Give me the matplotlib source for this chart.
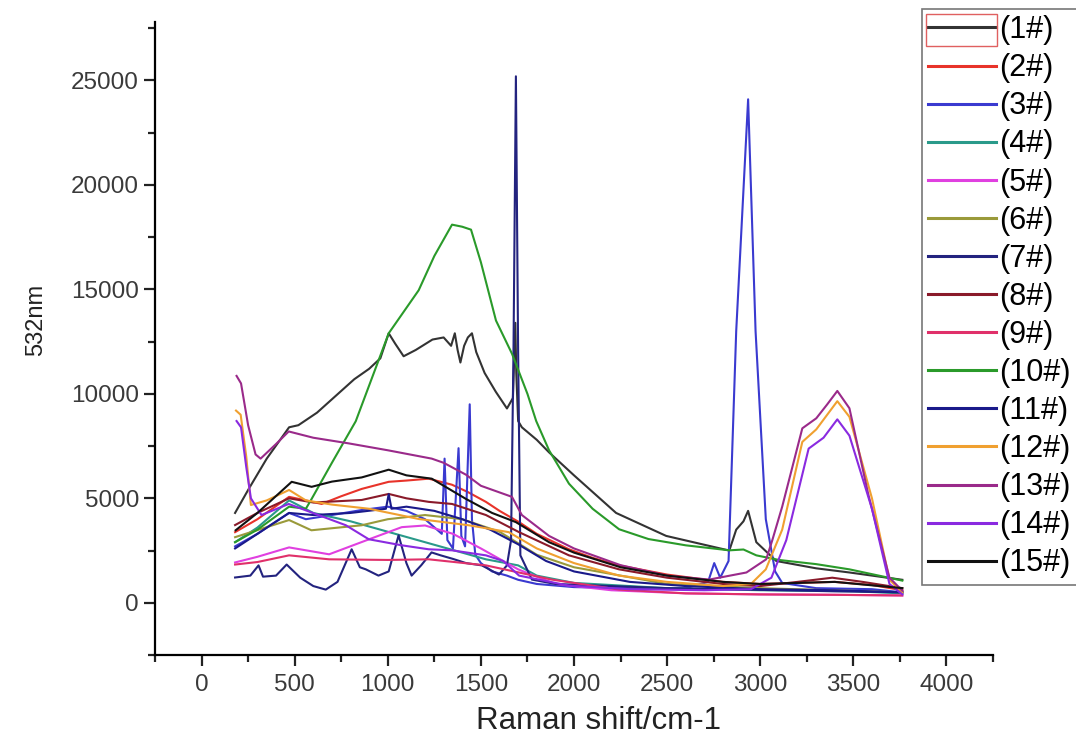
import matplotlib
matplotlib.use("Agg")
import matplotlib.pyplot as plt
from matplotlib.patches import Rectangle
from matplotlib.ticker import MultipleLocator

plt.rcParams["font.family"] = ["Liberation Sans", "DejaVu Sans"]

# Raman spectra (x: Raman shift / cm-1, y: intensity)
x1 = [180, 250, 350, 470, 520, 620, 720, 820, 900, 960, 1005, 1040, 1085, 1150, 1240, 1300, 1340, 1360, 1375,
      1390, 1410, 1430, 1452, 1475, 1520, 1580, 1640, 1672, 1685, 1690, 1700, 1720, 1800, 1866, 2000, 2226,
      2495, 2834, 2871, 2910, 2935, 2979, 3086, 3300, 3479, 3763]
y1 = [4300, 5400, 6900, 8400, 8500, 9100, 9900, 10700, 11200, 11700, 12900, 12400, 11800, 12100, 12600, 12700,
      12300, 12900, 12100, 11500, 12300, 12700, 12900, 12000, 11000, 10100, 9300, 9800, 13400, 11000, 8700, 8400,
      7800, 7200, 6100, 4300, 3200, 2500, 3500, 3900, 4400, 2900, 2000, 1650, 1450, 1100]

x2 = [180, 300, 470, 560, 645, 750, 860, 1005, 1100, 1220, 1345, 1430, 1527, 1600, 1705, 1800, 1973, 2100, 2242,
      2500, 2800, 3000, 3200, 3400, 3600, 3763]
y2 = [3380, 4000, 5070, 4900, 4730, 5100, 5450, 5790, 5850, 5940, 5650, 5300, 4830, 4400, 3860, 3300, 2560, 2150,
      1790, 1350, 1000, 900, 950, 1000, 850, 600]

x3 = [180, 300, 470, 560, 700, 860, 1000, 1100, 1200, 1290, 1305, 1320, 1350, 1380, 1395, 1415, 1440, 1452, 1470,
      1500, 1560, 1640, 1700, 1800, 2000, 2300, 2600, 2720, 2753, 2785, 2830, 2871, 2935, 2975, 3030, 3080, 3118,
      3300, 3600, 3763]
y3 = [2700, 3300, 4300, 4000, 4200, 4440, 4600, 4400, 4000, 3300, 6900, 3000, 2600, 7400, 3200, 2700, 9500, 4000,
      2300, 1900, 1500, 1300, 1100, 900, 750, 700, 700, 1000, 1900, 1200, 2000, 13000, 24100, 13000, 4000, 1500,
      950, 700, 650, 500]

x4 = [180, 300, 470, 600, 800, 1000, 1200, 1400, 1527, 1700, 1800, 2000, 2500, 3000, 3500, 3763]
y4 = [2900, 3600, 4900, 4300, 3900, 3400, 2900, 2400, 2080, 1790, 1300, 950, 700, 600, 550, 450]

x5 = [180, 300, 470, 685, 900, 1075, 1200, 1350, 1500, 1700, 1900, 2200, 2600, 3000, 3400, 3763]
y5 = [1930, 2200, 2650, 2320, 3040, 3620, 3700, 3300, 2600, 1600, 900, 600, 450, 400, 380, 350]

x6 = [180, 470, 590, 860, 1000, 1200, 1400, 1600, 1800, 2000, 2500, 3000, 3763]
y6 = [3140, 3960, 3470, 3710, 4000, 4200, 4000, 3400, 2300, 1700, 900, 700, 500]

x7 = [180, 262, 306, 330, 400, 457, 530, 600, 667, 730, 806, 850, 882, 950, 1005, 1058, 1100, 1128, 1180, 1235,
      1284, 1350, 1420, 1505, 1597, 1640, 1662, 1675, 1688, 1700, 1712, 1774, 1900, 2200, 2500, 2800, 3100, 3400,
      3763]
y7 = [1210, 1300, 1790, 1250, 1300, 1830, 1200, 800, 630, 1000, 2560, 1700, 1600, 1300, 1500, 3230, 1900, 1300,
      1800, 2410, 2270, 2100, 1900, 1790, 1350, 1790, 3000, 12000, 25200, 12000, 2270, 1110, 900, 800, 700, 650,
      600, 550, 500]

x8 = [180, 300, 470, 600, 860, 1005, 1100, 1220, 1345, 1527, 1705, 1973, 2242, 2500, 2800, 3000, 3200, 3387, 3550,
      3763]
y8 = [3720, 4300, 5000, 4800, 4920, 5210, 5000, 4830, 4730, 4200, 3380, 2270, 1600, 1200, 900, 800, 1000, 1200,
      1000, 700]

x9 = [180, 300, 470, 685, 1000, 1220, 1527, 1880, 2242, 2600, 3000, 3400, 3763]
y9 = [1830, 1950, 2270, 2080, 2050, 2080, 1790, 1110, 630, 450, 400, 380, 350]

x10 = [180, 300, 470, 560, 591, 700, 828, 1005, 1166, 1250, 1345, 1400, 1447, 1500, 1581, 1667, 1750, 1797, 1866,
       1973, 2100, 2242, 2400, 2600, 2834, 2910, 2979, 3100, 3300, 3479, 3763]
y10 = [2900, 3500, 4600, 4500, 4970, 6700, 8690, 12900, 14960, 16600, 18100, 18000, 17860, 16300, 13510, 11920,
       10000, 8700, 7300, 5700, 4500, 3520, 3050, 2750, 2510, 2550, 2270, 2050, 1850, 1600, 1060]

x11 = [180, 300, 470, 600, 800, 990, 1005, 1020, 1100, 1250, 1400, 1550, 1700, 1850, 2000, 2300, 2600, 3000, 3400,
       3763]
y11 = [2600, 3300, 4300, 4200, 4300, 4500, 5200, 4500, 4600, 4400, 4000, 3500, 2800, 2000, 1500, 1000, 800, 650,
       600, 500]

x12 = [185, 210, 240, 265, 350, 470, 560, 700, 900, 1166, 1435, 1650, 1800, 2000, 2242, 2500, 2800, 2950, 3030,
       3118, 3226, 3301, 3414, 3479, 3600, 3694, 3763]
y12 = [9200, 9000, 7000, 4680, 4900, 5400, 4900, 4700, 4500, 4010, 3710, 3380, 2600, 1900, 1300, 1000, 800, 900,
       1600, 3500, 7700, 8300, 9650, 8900, 5000, 1100, 500]

x13 = [188, 212, 250, 290, 317, 400, 468, 600, 790, 1000, 1236, 1300, 1420, 1500, 1667, 1720, 1866, 2000, 2250,
       2500, 2726, 2926, 3032, 3065, 3118, 3226, 3301, 3360, 3414, 3479, 3580, 3694, 3763]
y13 = [10860, 10500, 8500, 7100, 6900, 7600, 8200, 7900, 7630, 7300, 6900, 6700, 6130, 5600, 5070, 4200, 3200,
       2600, 1800, 1300, 1110, 1450, 2080, 3000, 4600, 8350, 8830, 9500, 10140, 9310, 5200, 1200, 580]

x14 = [188, 212, 240, 265, 322, 468, 775, 898, 1075, 1220, 1345, 1527, 1620, 1705, 1973, 2300, 2700, 2950, 3060,
       3140, 3260, 3340, 3414, 3479, 3600, 3694, 3763]
y14 = [8700, 8400, 6500, 5000, 4200, 4730, 3710, 3040, 2750, 2560, 2510, 2270, 2000, 1300, 820, 650, 600, 650,
       1200, 3000, 7380, 7900, 8780, 8000, 4500, 900, 400]

x15 = [183, 300, 484, 591, 700, 860, 1005, 1100, 1236, 1420, 1560, 1688, 1866, 2000, 2250, 2500, 2800, 3000, 3400,
       3763]
y15 = [3470, 4300, 5790, 5550, 5800, 6000, 6370, 6100, 5940, 4970, 4300, 3860, 2900, 2400, 1700, 1300, 1000, 900,
       1000, 700]

labels = ["(%d#)" % i for i in range(1, 16)]
colors = ["#333333", "#e8332a", "#3a3ad0", "#2a9a8a", "#e040e0", "#9a9a3a", "#23237f", "#8a1a2a",
          "#e0306a", "#2a9a2a", "#1a1a8a", "#f0a030", "#9a2a8a", "#8a2ae0", "#111111"]
series = [(x1, y1), (x2, y2), (x3, y3), (x4, y4), (x5, y5), (x6, y6), (x7, y7), (x8, y8),
          (x9, y9), (x10, y10), (x11, y11), (x12, y12), (x13, y13), (x14, y14), (x15, y15)]

W, H = 1076, 740
fig = plt.figure(figsize=(W / 100, H / 100), dpi=100)
ax = fig.add_axes([155 / W, 85 / H, 838 / W, 633 / H])

handles = []
for (xs, ys), color, label in zip(series, colors, labels):
    (line,) = ax.plot(xs, ys, color=color, lw=1.5, label=label)
    handles.append(line)

ax.set_xlim(-250, 4250)
ax.set_ylim(-2500, 27800)
ax.xaxis.set_major_locator(MultipleLocator(500))
ax.xaxis.set_minor_locator(MultipleLocator(250))
ax.yaxis.set_major_locator(MultipleLocator(5000))
ax.yaxis.set_minor_locator(MultipleLocator(2500))
for side in ["top", "right"]:
    ax.spines[side].set_visible(False)
for side in ["left", "bottom"]:
    ax.spines[side].set_linewidth(1.6)
ax.tick_params(which="major", direction="out", length=8, width=1.6, labelsize=17.5, colors="#222222",
               labelcolor="#3a3a3a")
ax.tick_params(axis="x", which="major", pad=6)
ax.tick_params(which="minor", direction="out", length=5, width=1.6, colors="#222222")

ax.set_xlabel("Raman shift/cm-1", fontsize=22.5, color="#222222", va="center")
ax.xaxis.set_label_coords((598 - 155) / 838, (655 - 721) / 633)
ax.set_ylabel("532nm", fontsize=17, color="#222222", va="center")
ax.yaxis.set_label_coords((36 - 155) / 838, (655 - 320) / 633)

leg = ax.legend(handles=handles, loc="upper left", bbox_to_anchor=(922 / W, 1 - 9 / H),
                bbox_transform=fig.transFigure, fontsize=22, frameon=True, fancybox=False,
                edgecolor="#555555", borderaxespad=0, borderpad=0.2, handlelength=2.22,
                handletextpad=0.1, labelspacing=0.265)
leg.get_frame().set_linewidth(1.2)
for line in leg.get_lines():
    line.set_linewidth(2.2)

# red selection box around the first legend entry
fig.patches.append(Rectangle((926 / W, 1 - 46 / H), 71 / W, 32 / H,
                             transform=fig.transFigure, fill=False, edgecolor="#e06060", lw=1.0))

fig.savefig("out.png", dpi=100)
